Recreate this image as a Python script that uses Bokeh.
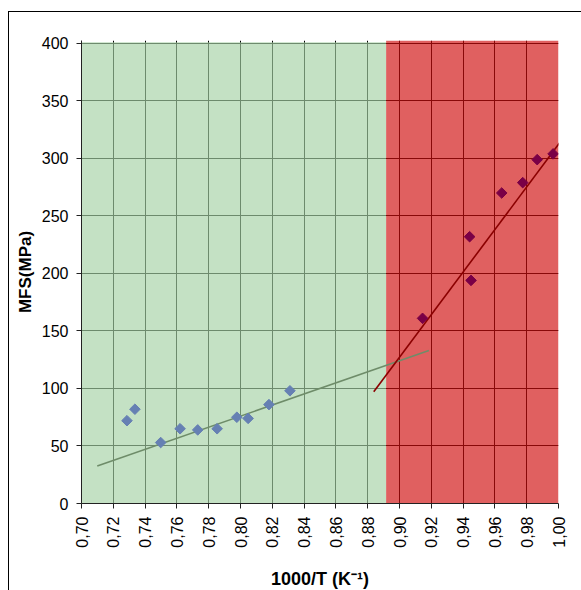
import math
from bokeh.plotting import figure
from bokeh.models import FixedTicker, CustomJSTickFormatter, ColumnDataSource
from bokeh.embed import file_html
from bokeh.resources import INLINE

# ---- data ----
green_x = [0.7286, 0.7336, 0.7498, 0.7620, 0.7731, 0.7853, 0.7977, 0.8048, 0.8179, 0.8311]
green_y = [72, 82, 53, 65, 64, 65, 75, 74, 86, 98]

red_x = [0.9145, 0.9441, 0.9450, 0.9643, 0.9775, 0.9866, 0.9966]
red_y = [161, 232, 194, 270, 279, 299, 304]

fit_green_x = [0.7099, 0.9185]
fit_green_y = [32.6, 133.0]
fit_red_x = [0.8838, 1.0006]
fit_red_y = [97.2, 313.4]

# regions
region_left = [0.70, 0.8916]
region_right = [0.8916, 1.00]
region_top = [401.0, 402.6]
region_colors = ["#A5D2A5", "#D00E0E"]

x_ticks = [0.70, 0.72, 0.74, 0.76, 0.78, 0.80, 0.82, 0.84, 0.86, 0.88, 0.90, 0.92, 0.94, 0.96, 0.98, 1.00]
y_ticks = [0, 50, 100, 150, 200, 250, 300, 350, 400]

FONT = "Liberation Sans"

p = figure(width=573, height=579, output_backend="svg", toolbar_location=None,
           x_range=(0.70, 1.00), y_range=(0, 402.6),
           min_border_left=72, min_border_right=24, min_border_top=28, min_border_bottom=86)
p.margin = (11, 0, 0, 8)
p.styles = {"border-top": "1px solid black", "border-left": "1px solid black"}

p.background_fill_color = "white"
p.border_fill_color = "white"
p.outline_line_color = None

# grid (shows through translucent region fills)
p.xgrid.ticker = FixedTicker(ticks=x_ticks)
p.ygrid.ticker = FixedTicker(ticks=y_ticks)
p.grid.grid_line_color = "black"
p.grid.grid_line_width = 1
p.grid.grid_line_alpha = 1.0

src_reg = ColumnDataSource(dict(left=region_left, right=region_right,
                                bottom=[0, 0], top=region_top, color=region_colors))
p.quad(left="left", right="right", bottom="bottom", top="top", source=src_reg,
       fill_color="color", fill_alpha=0.66, line_color=None)

# fit lines
p.line(fit_green_x, fit_green_y, line_color="#6E8C69", line_width=1.6)
p.line(fit_red_x, fit_red_y, line_color="#8B0000", line_width=1.6)

# points
p.scatter(green_x, green_y, marker="square", angle=math.pi / 4, size=7.5,
          fill_color="#6680B3", line_color="#6680B3")
p.scatter(red_x, red_y, marker="square", angle=math.pi / 4, size=7.5,
          fill_color="#7A0046", line_color="#7A0046")

# axes
p.xaxis.ticker = FixedTicker(ticks=x_ticks)
p.yaxis.ticker = FixedTicker(ticks=y_ticks)
p.xaxis.formatter = CustomJSTickFormatter(code="return tick.toFixed(2).replace('.', ',');")
p.xaxis.major_label_orientation = math.pi / 2
for ax in (p.xaxis, p.yaxis):
    ax.axis_line_color = "#222222"
    ax.major_tick_line_color = "#222222"
    ax.major_tick_out = 5
    ax.major_tick_in = 0
    ax.minor_tick_line_color = None
    ax.major_label_text_font = FONT
    ax.major_label_text_color = "black"
    ax.axis_label_text_font = FONT
    ax.axis_label_text_font_style = "bold"
    ax.axis_label_text_color = "black"

p.xaxis.major_label_text_font_size = "16px"
p.yaxis.major_label_text_font_size = "16px"
p.xaxis.major_label_standoff = 8
p.yaxis.major_label_standoff = 8

p.xaxis.axis_label = "1000/T (K\u207B\u00B9)"
p.yaxis.axis_label = "MFS(MPa)"
p.xaxis.axis_label_text_font_size = "18px"
p.yaxis.axis_label_text_font_size = "17px"
p.xaxis.axis_label_standoff = 18
p.yaxis.axis_label_standoff = 4

open("out.html", "w").write(file_html(p, INLINE))
